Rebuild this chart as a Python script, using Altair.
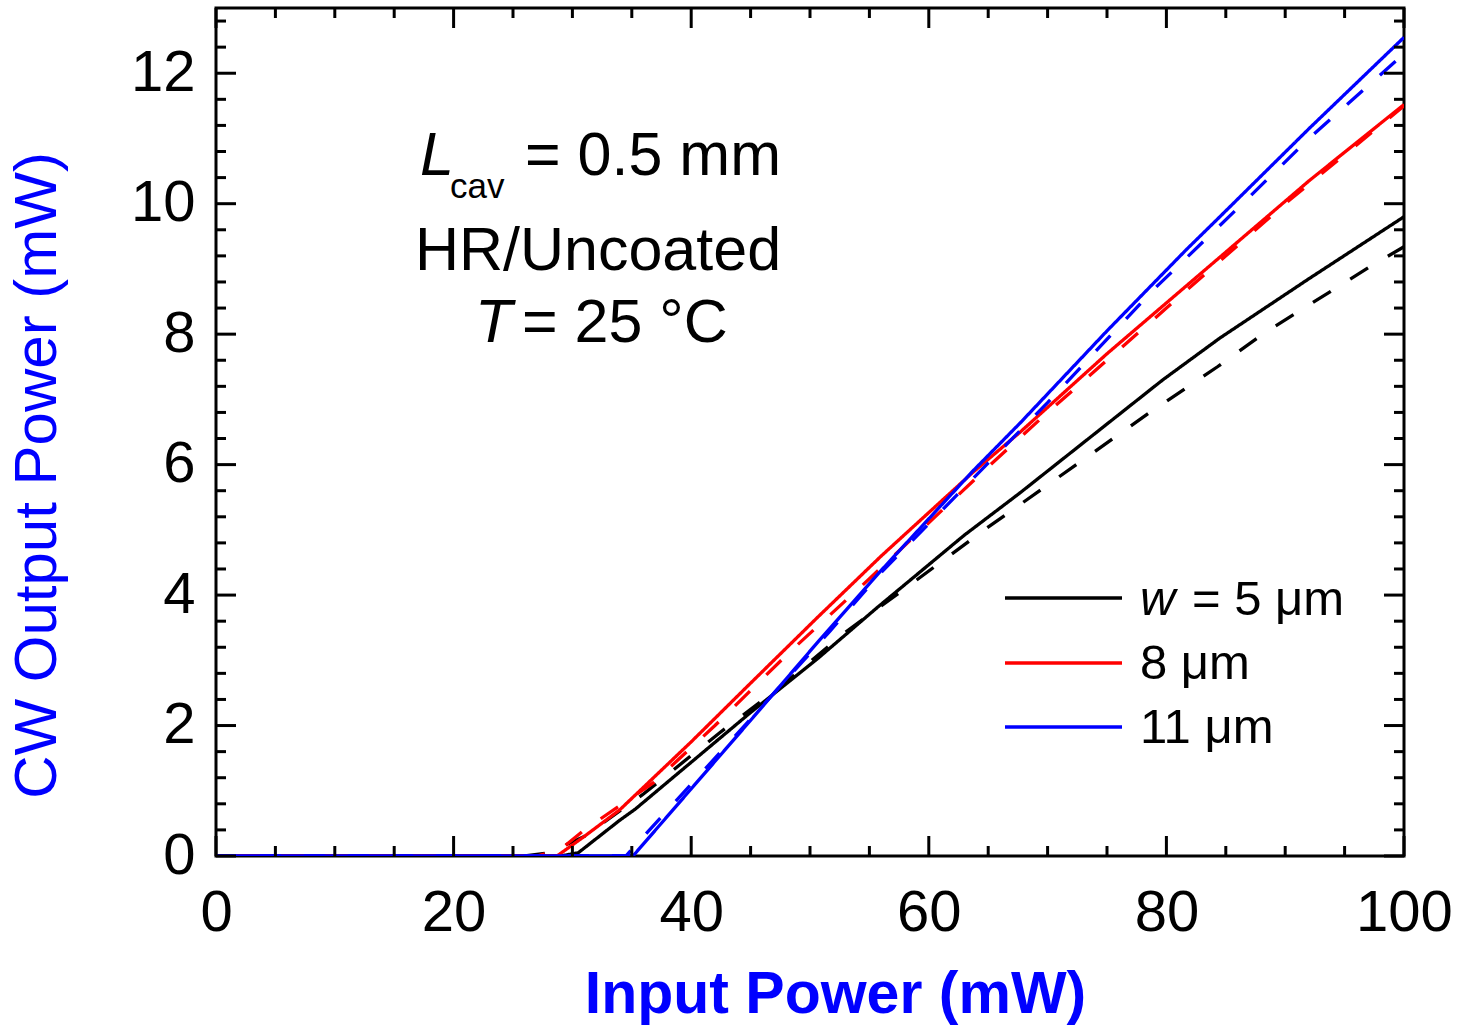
import altair as alt
import pandas as pd

FONT = "Liberation Sans, Arial, Helvetica, sans-serif"

# ---- data ----
x_w5_solid = [0, 29, 30.5, 34, 35.3, 45, 50.8, 55.6, 63, 67.7, 79.7, 84.5, 92, 100]
y_w5_solid = [0, 0, 0.05, 0.55, 0.72, 2.2, 3.05, 3.8, 4.92, 5.57, 7.3, 7.94, 8.85, 9.8]

x_w5_dash = [0, 26, 28, 31, 35.9, 42.4, 47.2, 52.9, 58, 64.9, 67.7, 78.6, 84.3, 88.1, 97, 100]
y_w5_dash = [0, 0, 0.05, 0.3, 0.94, 1.89, 2.55, 3.42, 4.1, 5.03, 5.39, 6.8, 7.5, 8.0, 9.02, 9.34]

x_w8_solid = [0, 28.7, 31, 34, 40, 45, 50.7, 56, 63.7, 67.7, 75, 84.5, 92, 100]
y_w8_solid = [0, 0, 0.3, 0.71, 1.75, 2.65, 3.67, 4.6, 5.88, 6.5, 7.7, 9.18, 10.35, 11.52]

x_w8_dash = [0, 27, 29, 31, 36.8, 42, 48.3, 55, 64.9, 70, 80, 90, 100]
y_w8_dash = [0, 0, 0.1, 0.4, 1.12, 2.0, 3.13, 4.25, 5.95, 6.8, 8.4, 10.0, 11.5]

x_w11_solid = [0, 35.1, 40, 45, 50.8, 56, 63.7, 67.7, 75, 81.7, 84.5, 92, 100]
y_w11_solid = [0, 0, 1.03, 2.08, 3.31, 4.38, 5.9, 6.64, 8.05, 9.3, 9.8, 11.15, 12.55]

x_w11_dash = [0, 34.5, 40, 45, 51.7, 56, 65.3, 70, 78.9, 86.8, 92, 100]
y_w11_dash = [0, 0, 1.1, 2.1, 3.45, 4.35, 6.08, 6.95, 8.68, 10.07, 11.0, 12.3]

series_names = ["w5", "w8", "w11"]
series_colors = ["#000000", "#FF0000", "#0000FF"]

x_major = [0, 20, 40, 60, 80, 100]
x_minor = [5, 10, 15, 25, 30, 35, 45, 50, 55, 65, 70, 75, 85, 90, 95]
y_major = [0, 2, 4, 6, 8, 10, 12]
y_minor = [0.4, 0.8, 1.2, 1.6, 2.4, 2.8, 3.2, 3.6, 4.4, 4.8, 5.2, 5.6,
           6.4, 6.8, 7.2, 7.6, 8.4, 8.8, 9.2, 9.6, 10.4, 10.8, 11.2, 11.6, 12.4, 12.8]

x_title = "Input Power (mW)"
y_title = "CW Output Power (mW)"
legend_labels = ["= 5 \u03bcm", "8 \u03bcm", "11 \u03bcm"]

# ---- build table ----
series = [
    ("w5", "solid", x_w5_solid, y_w5_solid),
    ("w5", "dashed", x_w5_dash, y_w5_dash),
    ("w8", "solid", x_w8_solid, y_w8_solid),
    ("w8", "dashed", x_w8_dash, y_w8_dash),
    ("w11", "solid", x_w11_solid, y_w11_solid),
    ("w11", "dashed", x_w11_dash, y_w11_dash),
]
rows = []
for order, (name, style, xs, ys) in enumerate(series):
    for xv, yv in zip(xs, ys):
        rows.append({"series": name, "style": style, "key": f"{order}_{name}_{style}", "x": xv, "y": yv})
df = pd.DataFrame(rows)

W, H = 1188, 848
xscale = alt.Scale(domain=[0, 100], nice=False, zero=False)
yscale = alt.Scale(domain=[0, 13], nice=False, zero=False)

x_axis = alt.Axis(values=x_major, title=x_title, grid=False, domain=False, ticks=False,
                  tickSize=0, labelPadding=28, labelFontSize=58, labelFont=FONT,
                  labelColor="black", labelFlush=False, labelOverlap=False,
                  titleFont=FONT, titleFontSize=59,
                  titleFontWeight="bold", titleColor="#0000FF",
                  titleX=619, titleY=156, titleBaseline="alphabetic")
y_axis = alt.Axis(values=y_major, title=y_title, grid=False, domain=False, ticks=False,
                  tickSize=0, labelPadding=21, labelFontSize=58, labelFont=FONT,
                  labelColor="black", labelFlush=False, labelOverlap=False,
                  titleFont=FONT, titleFontSize=60,
                  titleFontWeight="normal", titleColor="#0000FF",
                  titleX=-161, titleY=467, titleAngle=270,
                  titleBaseline="alphabetic")

lines = alt.Chart(df).mark_line(strokeWidth=3.3, clip=True).encode(
    x=alt.X("x:Q", scale=xscale, axis=x_axis),
    y=alt.Y("y:Q", scale=yscale, axis=y_axis),
    color=alt.Color("series:N", scale=alt.Scale(domain=series_names, range=series_colors), legend=None),
    strokeDash=alt.StrokeDash("style:N", scale=alt.Scale(domain=["solid", "dashed"],
                                                          range=[[1, 0], [21, 23]]), legend=None),
    detail="key:N",
)

def xticks(vals, length):
    d = pd.DataFrame({"x": vals})
    bot = alt.Chart(d).mark_rule(color="black", strokeWidth=3).encode(
        x=alt.X("x:Q", scale=xscale, axis=x_axis), y=alt.value(H), y2=alt.value(H - length))
    top = alt.Chart(d).mark_rule(color="black", strokeWidth=3).encode(
        x=alt.X("x:Q", scale=xscale, axis=x_axis), y=alt.value(0), y2=alt.value(length))
    return [bot, top]

def yticks(vals, length):
    d = pd.DataFrame({"y": vals})
    left = alt.Chart(d).mark_rule(color="black", strokeWidth=3).encode(
        y=alt.Y("y:Q", scale=yscale, axis=y_axis), x=alt.value(0), x2=alt.value(length))
    right = alt.Chart(d).mark_rule(color="black", strokeWidth=3).encode(
        y=alt.Y("y:Q", scale=yscale, axis=y_axis), x=alt.value(W), x2=alt.value(W - length))
    return [left, right]

tick_layers = xticks(x_major, 20) + xticks(x_minor, 10) + yticks(y_major, 20) + yticks(y_minor, 10)

def txt(s, x, y, size=61, style="normal", align="left"):
    return alt.Chart(pd.DataFrame({"t": [s]})).mark_text(
        font=FONT, fontSize=size, fontStyle=style, align=align, baseline="alphabetic",
        color="black").encode(x=alt.value(x), y=alt.value(y), text="t:N")

annot = [
    txt("L", 204, 167, style="italic"),
    txt("cav", 234, 190, size=35),
    txt("= 0.5 mm", 309, 167),
    txt("HR/Uncoated", 382, 262, align="center"),
    txt("T", 259, 334, style="italic"),
    txt("= 25 \u00b0C", 306, 334),
]

legend_layers = []
leg_y = [590, 655, 719]
leg_text_x = [976, 924, 924]
leg_text_y = [607, 671, 735]
for i in range(3):
    legend_layers.append(
        alt.Chart(pd.DataFrame({"s": [series_names[i]]})).mark_rule(strokeWidth=3.3, color=series_colors[i]).encode(
            x=alt.value(789), x2=alt.value(906), y=alt.value(leg_y[i])))
    legend_layers.append(txt(legend_labels[i], leg_text_x[i], leg_text_y[i], size=49))
legend_layers.append(txt("w", 924, 607, size=49, style="italic"))

chart = alt.layer(lines, *tick_layers, *annot, *legend_layers).properties(
    width=W, height=H,
    autosize=alt.AutoSizeParams(type="none"),
    padding={"left": 216, "top": 8, "right": 57, "bottom": 169},
    background="white",
).configure_view(stroke="black", strokeWidth=3)

chart.save("out.html", embed_options={"renderer": "svg", "actions": False})
